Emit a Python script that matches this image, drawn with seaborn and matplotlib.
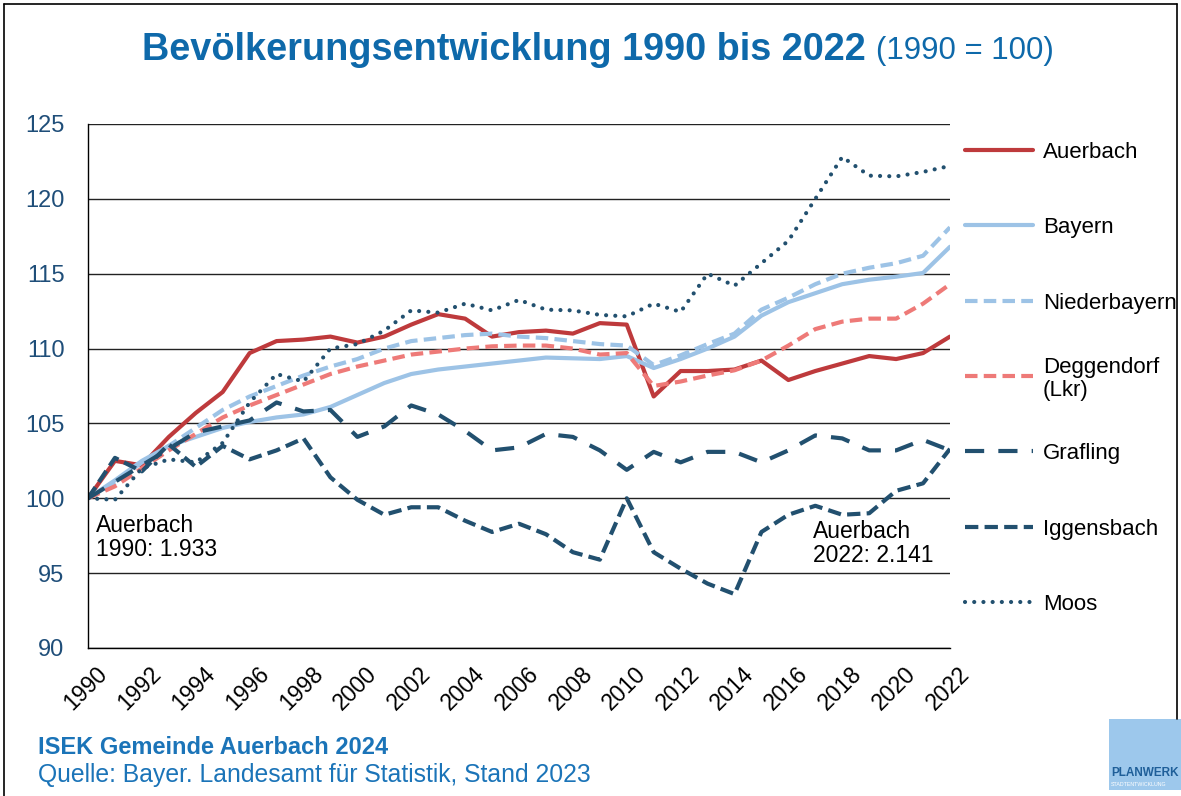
import numpy as np
import pandas as pd
import seaborn as sns
import matplotlib.pyplot as plt
import matplotlib.transforms as mtrans
from matplotlib.lines import Line2D
from matplotlib.patches import Rectangle

# ==[ Data ]===============================================================
years = list(range(1990, 2023))

auerbach = [100, 102.5, 102.2, 104.1, 105.7, 107.1, 109.7, 110.5, 110.6, 110.8,
            110.4, 110.8, 111.6, 112.3, 112.0, 110.8, 111.1, 111.2, 111.0, 111.7,
            111.6, 106.8, 108.5, 108.5, 108.6, 109.2, 107.9, 108.5, 109.0, 109.5,
            109.3, 109.7, 110.8]
bayern = [100, 101.2, 102.5, 103.5, 104.1, 104.7, 105.1, 105.4, 105.6, 106.1,
          106.9, 107.7, 108.3, 108.6, 108.8, 109.0, 109.2, 109.4, 109.35, 109.3,
          109.5, 108.7, 109.3, 110.0, 110.8, 112.2, 113.1, 113.7, 114.3, 114.6,
          114.8, 115.05, 116.8]
niederbayern = [100, 101.0, 102.4, 103.5, 104.7, 105.9, 106.8, 107.5, 108.2, 108.8,
                109.3, 110.0, 110.5, 110.7, 110.9, 111.0, 110.8, 110.7, 110.5, 110.3,
                110.2, 108.9, 109.55, 110.3, 111.0, 112.6, 113.4, 114.3, 115.0, 115.4,
                115.7, 116.2, 118.1]
deggendorf = [100, 100.8, 102.0, 103.2, 104.3, 105.4, 106.2, 106.9, 107.6, 108.3,
              108.8, 109.2, 109.6, 109.8, 110.0, 110.15, 110.2, 110.2, 110.0, 109.6,
              109.7, 107.5, 107.8, 108.2, 108.55, 109.2, 110.2, 111.3, 111.8, 112.0,
              112.0, 113.0, 114.3]
grafling = [100, 101.1, 102.2, 103.3, 104.4, 104.8, 105.2, 106.4, 105.8, 105.9,
            104.1, 104.8, 106.2, 105.6, 104.5, 103.2, 103.4, 104.3, 104.1, 103.2,
            101.9, 103.1, 102.4, 103.1, 103.1, 102.4, 103.2, 104.2, 104.0, 103.2,
            103.2, 103.9, 103.2]
iggensbach = [100, 102.7, 101.8, 103.6, 102.1, 103.5, 102.6, 103.2, 104.0, 101.4,
              99.9, 98.9, 99.4, 99.4, 98.5, 97.75, 98.3, 97.6, 96.4, 95.9,
              100.0, 96.4, 95.3, 94.3, 93.6, 97.75, 98.9, 99.5, 98.9, 99.0,
              100.5, 101.0, 103.3]
moos = [100, 99.9, 102.0, 102.6, 102.4, 103.7, 106.4, 108.3, 107.8, 110.0,
        110.3, 111.2, 112.55, 112.4, 113.0, 112.55, 113.25, 112.6, 112.55, 112.25,
        112.15, 113.0, 112.45, 115.0, 114.2, 115.7, 117.2, 120.0, 122.8, 121.55,
        121.5, 121.8, 122.2]

names = ["Auerbach", "Bayern", "Niederbayern", "Deggendorf", "Grafling", "Iggensbach", "Moos"]
legend_labels = ["Auerbach", "Bayern", "Niederbayern", "Deggendorf\n(Lkr)", "Grafling", "Iggensbach", "Moos"]
series = [auerbach, bayern, niederbayern, deggendorf, grafling, iggensbach, moos]

# ==[ Styles ]=============================================================
DARK = "#22506F"
palette = {"Auerbach": "#BE3A3C", "Bayern": "#9DC3E6", "Niederbayern": "#9DC3E6",
           "Deggendorf": "#EE7A78", "Grafling": DARK, "Iggensbach": DARK, "Moos": DARK}
dashes = {"Auerbach": "", "Bayern": "", "Niederbayern": (3.0, 1.5),
          "Deggendorf": (3.0, 1.5), "Grafling": (4.6, 3.4), "Iggensbach": (3.2, 1.5),
          "Moos": (0.01, 2.2)}
LW = 3.0

df = pd.DataFrame({
    "Jahr": np.tile(years, len(names)),
    "Index": np.concatenate(series),
    "Gebiet": np.repeat(names, len(years)),
})

# ==[ Figure ]=============================================================
sns.set_theme(style="white")
plt.rcParams["font.family"] = ["Liberation Sans", "DejaVu Sans"]

W, H = 1181, 796
fig = plt.figure(figsize=(W / 100, H / 100), dpi=100)
ax = fig.add_axes([88 / W, 1 - 648 / H, (950 - 88) / W, (648 - 124) / H])

sns.lineplot(data=df, x="Jahr", y="Index", hue="Gebiet", style="Gebiet",
             hue_order=names, style_order=names, palette=palette, dashes=dashes,
             linewidth=LW, errorbar=None, sort=False, legend=False, ax=ax)

for line, name in zip(ax.lines, names):
    line.set_solid_capstyle("round")
    if name == "Moos":
        line.set_dash_capstyle("round")

ax.set_xlim(1990, 2022)
ax.set_ylim(90, 125)
ax.set_yticks(range(90, 126, 5))
ax.set_xticks(years, labels=[str(y) if y % 2 == 0 else "" for y in years])
ax.set_xlabel("")
ax.set_ylabel("")
ax.grid(axis="y", color="#222222", linewidth=1.0)
ax.grid(axis="x", visible=False)
ax.set_axisbelow(True)
for side in ["top", "right"]:
    ax.spines[side].set_visible(False)
for side in ["left", "bottom"]:
    ax.spines[side].set_color("black")
    ax.spines[side].set_linewidth(1.0)

ax.tick_params(axis="both", direction="out", length=7, width=1, color="black")
ax.tick_params(axis="y", labelsize=17, labelcolor="#1F4E79", pad=10)
ax.tick_params(axis="x", labelsize=16.5, labelcolor="black", pad=9)

shift = mtrans.ScaledTranslation(16 / 100, 0, fig.dpi_scale_trans)
for lab in ax.get_xticklabels():
    lab.set_rotation(45)
    lab.set_ha("right")
    lab.set_va("center")
    lab.set_rotation_mode("anchor")
    lab.set_transform(lab.get_transform() + shift)

# annotations
ax.text(1990.3, 98.95, "Auerbach\n1990: 1.933", fontsize=16.5, va="top", ha="left",
        linespacing=1.05, color="black")
ax.text(2016.9, 98.55, "Auerbach\n2022: 2.141", fontsize=16.5, va="top", ha="left",
        linespacing=1.05, color="black")

# ==[ Legend ]=============================================================
def fx(px):
    return px / W

def fy(py):
    return 1 - py / H

for i, (name, label) in enumerate(zip(names, legend_labels)):
    yy = 150 + 75.3 * i
    dash = dashes[name]
    handle = Line2D([fx(965), fx(1033)], [fy(yy), fy(yy)], transform=fig.transFigure,
                    color=palette[name], linewidth=LW,
                    dashes=dash if dash else (None, None))
    if dash == "":
        handle.set_linestyle("-")
    if name == "Moos":
        handle.set_dash_capstyle("round")
    fig.add_artist(handle)
    fig.text(fx(1043), fy(yy), label, fontsize=16, va="center_baseline", ha="left",
             linespacing=1.1, color="black")

# ==[ Title / footer ]=====================================================
fig.text(fx(866), fy(50), "Bevölkerungsentwicklung 1990 bis 2022", fontsize=27.3,
         fontweight="bold", color="#0E69AA", ha="right", va="center")
fig.text(fx(876), fy(51), "(1990 = 100)", fontsize=22.5, color="#0E69AA",
         ha="left", va="center")

fig.text(fx(38), fy(747), "ISEK Gemeinde Auerbach 2024", fontsize=17, fontweight="bold",
         color="#1B74B8", ha="left", va="center")
fig.text(fx(38), fy(775), "Quelle: Bayer. Landesamt für Statistik, Stand 2023", fontsize=17.8,
         color="#1B74B8", ha="left", va="center")

# logo
fig.add_artist(Rectangle((fx(1109), fy(790)), fx(1181) - fx(1109), fy(719) - fy(790),
                         transform=fig.transFigure, facecolor="#9DC8EC", edgecolor="none"))
fig.text(fx(1111), fy(773), "PLANWERK", fontsize=8.5, fontweight="bold", color="#1F5F99",
         ha="left", va="center")
fig.text(fx(1111), fy(785), "STADTENTWICKLUNG", fontsize=3.8, color="white",
         ha="left", va="center")

# outer frame
for xs, ys in [([4, 4], [4, H]), ([4, 1177], [4, 4]), ([1177, 1177], [4, 719])]:
    fig.add_artist(Line2D([fx(x) for x in xs], [fy(y) for y in ys],
                          transform=fig.transFigure, color="black", linewidth=1.2))

fig.savefig("out.png", dpi=100)
